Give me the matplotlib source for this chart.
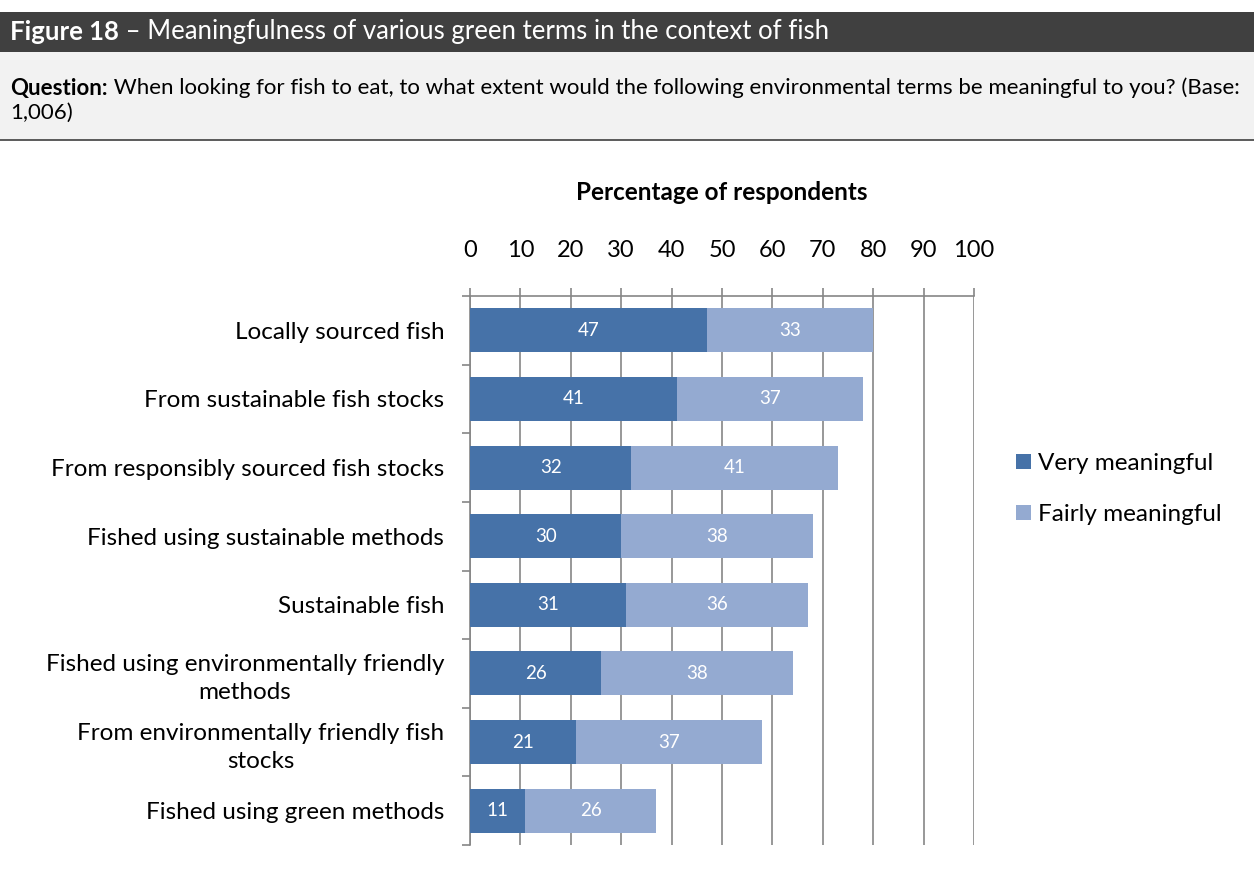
import matplotlib
matplotlib.use("Agg")
import matplotlib.pyplot as plt
from matplotlib.patches import Rectangle, Patch
from matplotlib.ticker import FixedLocator
import numpy as np

plt.rcParams['font.family'] = ['Lato', 'DejaVu Sans']

categories = [
    "Locally sourced fish",
    "From sustainable fish stocks",
    "From responsibly sourced fish stocks",
    "Fished using sustainable methods",
    "Sustainable fish",
    "Fished using environmentally friendly\nmethods",
    "From environmentally friendly fish\nstocks",
    "Fished using green methods",
]
very_meaningful = [47, 41, 32, 30, 31, 26, 21, 11]
fairly_meaningful = [33, 37, 41, 38, 36, 38, 37, 26]
series_names = ["Very meaningful", "Fairly meaningful"]
x_ticks = list(range(0, 101, 10))

DARK = "#4672a8"
LIGHT = "#94aad1"
GRID = "#868686"

W, H = 1254, 884
fig = plt.figure(figsize=(W / 100, H / 100), dpi=100)

# Chart area
ax = fig.add_axes([470 / W, 1 - 845 / H, 504 / W, (845 - 296) / H])

# Header bar
fig.patches.append(Rectangle((0, 1 - 52 / H), 1, 40 / H, transform=fig.transFigure,
                             facecolor="#404040", edgecolor="none", zorder=-2))
# Question panel
fig.patches.append(Rectangle((0, 1 - 140 / H), 1, 88 / H, transform=fig.transFigure,
                             facecolor="#f2f2f2", edgecolor="none", zorder=-2))
fig.add_artist(plt.Line2D([0, 1], [1 - 140 / H, 1 - 140 / H], transform=fig.transFigure,
                          color="#404040", lw=1.2, zorder=-1))

t1 = fig.text(10 / W, 1 - 32 / H, "Figure 18", color="white", fontsize=18.5,
              fontweight="bold", va="center", ha="left")
ax.annotate(" \u2013 Meaningfulness of various green terms in the context of fish",
            xy=(1, 0), xycoords=t1, va="bottom", ha="left",
            color="white", fontsize=18.5, annotation_clip=False)

q1 = fig.text(10 / W, 1 - 88 / H, "Question:", color="black", fontsize=16,
              fontweight="bold", va="center", ha="left")
ax.annotate(" When looking for fish to eat, to what extent would the following environmental terms be meaningful to you? (Base:",
            xy=(1, 0), xycoords=q1, va="bottom", ha="left", color="black",
            fontsize=16, annotation_clip=False)
fig.text(10 / W, 1 - 113 / H, "1,006)", color="black", fontsize=16, va="center", ha="left")

y = np.arange(len(categories))
bar_h = 0.64
b1 = ax.barh(y, very_meaningful, height=bar_h, color=DARK, label=series_names[0], zorder=3)
b2 = ax.barh(y, fairly_meaningful, left=very_meaningful, height=bar_h, color=LIGHT,
             label=series_names[1], zorder=3)

for vals, lefts in ((very_meaningful, [0] * len(y)),
                    (fairly_meaningful, very_meaningful)):
    for yi, v, l in zip(y, vals, lefts):
        ax.text(l + v / 2, yi, str(v), ha="center", va="center", color="white",
                fontsize=13.5, zorder=4)

ax.set_xlim(0, 100)
ax.set_ylim(len(categories) - 0.5, -0.5)
ax.xaxis.tick_top()
ax.xaxis.set_label_position("top")
ax.set_xticks(x_ticks)
ax.set_xticklabels([str(t) for t in x_ticks], fontsize=17)
ax.tick_params(axis="x", direction="out", length=6, width=1.2, color=GRID, pad=19)
ax.set_xlabel("Percentage of respondents", fontsize=17.5, fontweight="bold", labelpad=29)

ax.set_yticks(y)
ax.set_yticklabels(categories, fontsize=17.5, multialignment="center", linespacing=1.4)
ax.yaxis.set_minor_locator(FixedLocator(np.arange(-0.5, len(categories), 1)))
ax.tick_params(axis="y", which="major", length=0, pad=18.5)
ax.tick_params(axis="y", which="minor", direction="out", length=6, width=1.2, color=GRID)

ax.grid(axis="x", color=GRID, linewidth=1.2, zorder=0)
ax.set_axisbelow(True)
for side in ("right", "bottom"):
    ax.spines[side].set_visible(False)
for side in ("top", "left"):
    ax.spines[side].set_color(GRID)
    ax.spines[side].set_linewidth(1.2)

handles = [Patch(facecolor=DARK, edgecolor="none"), Patch(facecolor=LIGHT, edgecolor="none")]
fig.legend(handles, series_names, loc="center left", bbox_to_anchor=(1016 / W, 1 - 489 / H),
           frameon=False, fontsize=17.5, handlelength=0.6, handleheight=0.6,
           handletextpad=0.3, labelspacing=1.25, borderpad=0, borderaxespad=0)

fig.savefig("out.png", dpi=100)
